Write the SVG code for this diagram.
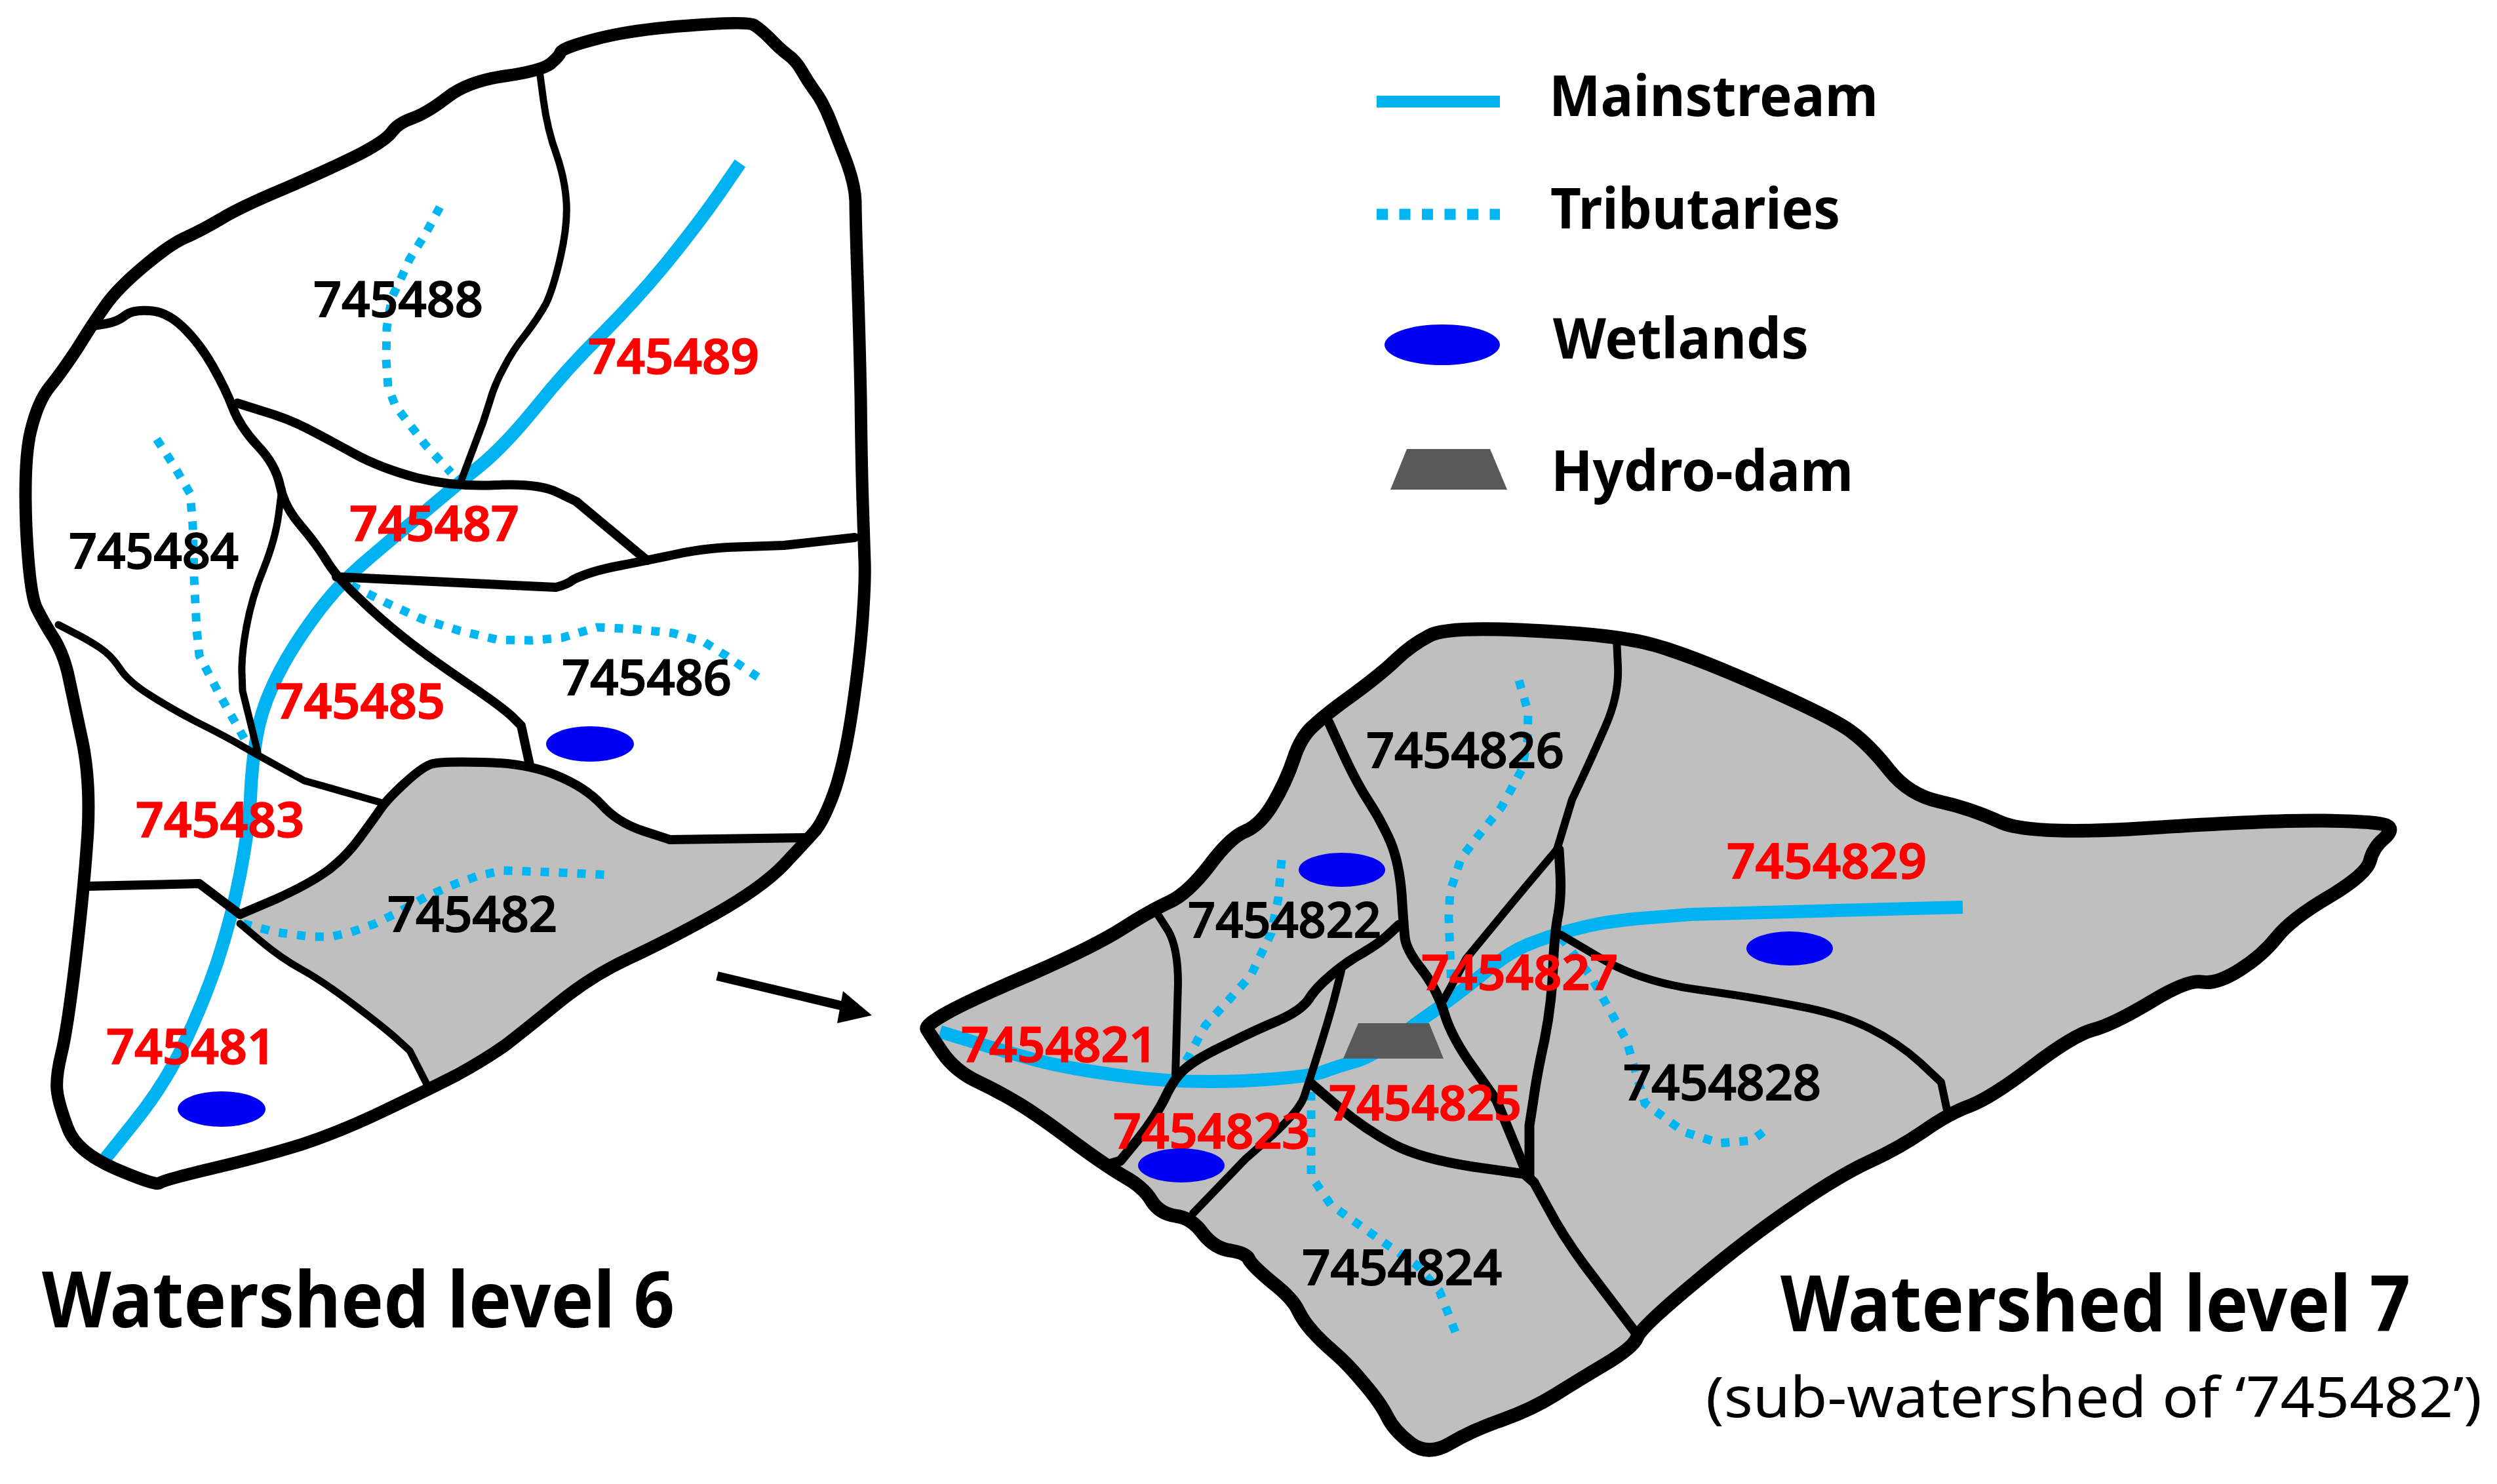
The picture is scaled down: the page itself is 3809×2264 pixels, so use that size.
<svg xmlns="http://www.w3.org/2000/svg" width="3809" height="2264" viewBox="0 0 3809 2264">
<style>
.l{fill:none;stroke:#000;stroke-linejoin:round;stroke-linecap:round}
.b6{stroke-width:19}.i6{stroke-width:11}.m6{stroke-width:14}.b7{stroke-width:21}.i7{stroke-width:12}.m7{stroke-width:15}
.g{fill:#bfbfbf;stroke:none}
.s{fill:none;stroke:#00b2f0;stroke-linejoin:round}
.t{fill:none;stroke:#00b6f2;stroke-width:13;stroke-dasharray:13 15}
.w{fill:#0000f5}
.d{fill:#595959}
text{font-family:"Noto Sans","Open Sans","Liberation Sans",sans-serif}
.n{font-size:74px;font-weight:500;fill:#000;stroke:#000;stroke-width:2}
.r{font-size:74px;font-weight:600;fill:#f00;stroke:#f00;stroke-width:1.5}
.h{font-size:118px;font-weight:700;fill:#000}
.k{font-size:86px;font-weight:700;fill:#000}
.u{font-size:86px;font-weight:400;fill:#000}
</style>
<defs>
<path id="o6" d="M1150,38Q1161,45 1175,59 1188,73 1201,83 1214,92 1223,108 1232,124 1243,139 1254,153 1266,182 1277,210 1291,246 1304,281 1305,307 1305,332 1308,421 1311,510 1313,606 1314,702 1316,766 1318,829 1319,858 1320,886 1316,943 1312,1000 1301,1077 1290,1154 1275,1201 1259,1248 1244,1267 1228,1285 1195,1320 1161,1355 1090,1395 1018,1435 960,1462 902,1489 853,1529 804,1569 773,1593 741,1616 697,1640 652,1663 585,1695 518,1727 460,1746 402,1764 326,1782 250,1800 243,1805 237,1809 176,1783 116,1757 103,1720 89,1683 87,1663 85,1643 94,1606 103,1569 116,1459 129,1348 134,1268 138,1188 125,1128 112,1067 105,1034 98,1000 83,975 67,950 56,928 45,906 40,804 36,702 47,657 58,612 76,590 94,568 119,530 143,491 161,466 179,440 221,405 263,370 286,361 308,351 337,334 366,316 438,286 509,255 549,235 589,214 598,201 607,188 630,180 652,172 683,148 714,124 770,116 826,108 840,97 853,86 855,80 857,73 911,59 964,45 1051,39 1138,32 1150,38Z"/>
<path id="o7" d="M1445,1545Q1479,1526 1575,1485 1671,1443 1713,1416 1755,1389 1784,1376 1812,1363 1845,1320 1877,1277 1900,1268 1923,1258 1942,1226 1961,1194 1973,1159 1984,1124 2004,1107 2023,1089 2065,1059 2107,1028 2130,1006 2153,984 2180,970 2206,955 2336,962 2466,968 2523,984 2580,1000 2689,1048 2798,1096 2825,1117 2852,1137 2882,1175 2912,1213 2959,1223 3005,1233 3051,1254 3097,1275 3280,1263 3462,1251 3544,1252 3626,1253 3640,1259 3653,1265 3637,1279 3620,1293 3615,1314 3610,1334 3553,1368 3495,1402 3473,1430 3451,1458 3416,1480 3381,1502 3359,1498 3337,1494 3280,1529 3223,1563 3193,1571 3163,1579 3100,1627 3037,1675 3005,1687 2972,1699 2934,1726 2896,1752 2852,1772 2808,1792 2738,1840 2667,1888 2585,1957 2503,2025 2497,2041 2491,2056 2449,2081 2407,2106 2372,2128 2337,2150 2292,2166 2246,2182 2212,2202 2179,2222 2152,2202 2126,2182 2116,2161 2105,2139 2080,2110 2056,2081 2035,2063 2014,2045 2002,2031 1989,2017 1980,1999 1972,1981 1940,1956 1909,1930 1905,1921 1902,1912 1878,1908 1853,1905 1835,1882 1818,1858 1793,1855 1768,1851 1756,1831 1744,1811 1715,1795 1686,1778 1636,1741 1587,1704 1556,1685 1525,1666 1491,1650 1457,1634 1437,1605 1418,1577 1414,1570 1411,1564 1445,1545Z"/>
</defs>
<rect width="3809" height="2264" fill="#fff"/>
<g id="watershed-level-6">
<path id="basin-745482" class="g" d="M366,1395L420,1372Q473,1348 500,1328 527,1308 549,1278 571,1248 580,1235 589,1221 616,1196 643,1171 657,1166 670,1161 737,1163 804,1164 849,1183 893,1201 918,1228 942,1255 982,1268L1022,1281 1228,1278 1228,1285 1195,1320Q1161,1355 1090,1395 1018,1435 960,1462 902,1489 853,1529 804,1569 773,1593 741,1616 697,1640L652,1663 625,1603 603,1583Q580,1563 536,1530 491,1496 460,1479 429,1462 398,1436L366,1409Z"/>
<path id="tributaries-6a" class="t" d="M671,316L650,355 625,395 607,435 598,453 590,500 589,548 592,590 603,619 650,680 688,721"/>
<path id="tributaries-6b" class="t" d="M239,670L265,710 290,753 294,800 296,880 300,960 304,1000 335,1060 375,1131"/>
<path id="tributaries-6c" class="t" d="M536,893L590,920 643,944 700,962 759,976 810,977 857,973 911,957 970,960 1027,966 1075,980 1107,1000 1156,1033"/>
<path id="tributaries-6d" class="t" d="M371,1409L420,1422 473,1429 505,1429 536,1422 570,1410 607,1392 650,1368 696,1348 730,1336 768,1328 850,1331 933,1335"/>
<path id="mainstream-6" class="s" stroke-width="20" d="M1129,249L1096,297Q1063,344 1016,402 969,459 918,510 866,561 817,622 768,682 732,711 696,740 643,785 589,829 549,864 509,899 473,950 437,1000 417,1044 397,1087 391,1127 384,1167 382,1218 379,1268 366,1335 353,1402 331,1469 308,1536 279,1596 250,1656 205,1712L161,1767"/>
<g id="boundaries-6">
<path class="l i6" d="M823,108L829,153Q835,198 849,236 862,274 864,309 866,344 855,392 844,440 833,463 821,485 801,511 781,536 768,562 754,587 746,616L737,644 701,740"/>
<path class="l m6" d="M143,497L161,494Q179,491 190,482 201,472 228,474 254,475 279,499 304,523 324,558 344,593 355,622 366,651 393,680 420,708 427,740 433,772 458,801 482,829 498,855 513,880 547,912 580,944 615,972 650,1000 709,1040 768,1080 782,1094L795,1107 808,1167"/>
<path class="l m6" d="M362,615L400,627Q438,638 469,654 500,670 540,692 580,714 636,729 692,743 757,740 821,737 850,751L879,765 987,855"/>
<path class="l m6" d="M513,880L848,896Q865,892 875,884 902,871 945,863 987,855 1034,845 1080,835 1138,834L1196,832 1304,820"/>
<path class="l i6" d="M430,746L425,785Q420,823 402,868 384,912 376,956 368,1000 369,1027L370,1054 393,1147"/>
<path class="l i6" d="M89,953L112,965Q134,976 152,988 170,1000 183,1020 196,1040 228,1060 259,1080 299,1101 339,1121 362,1134 384,1147 424,1169L464,1191 580,1224"/>
<path class="l m6" d="M134,1352L304,1348 366,1395"/>
<path class="l m6" d="M366,1395L420,1372Q473,1348 500,1328 527,1308 549,1278 571,1248 580,1235 589,1221 616,1196 643,1171 657,1166 670,1161 737,1163 804,1164 849,1183 893,1201 918,1228 942,1255 982,1268L1022,1281 1228,1278"/>
<path class="l i6" d="M366,1409L398,1436Q429,1462 460,1479 491,1496 536,1530 580,1563 603,1583L625,1603 652,1656"/>
<use id="outline-6" href="#o6" class="l b6"/>
</g>
<ellipse id="wetland-6a" class="w" cx="900" cy="1135" rx="67" ry="27"/>
<ellipse id="wetland-6b" class="w" cx="338" cy="1692" rx="67" ry="27"/>
<g id="labels-6">
<text class="n" x="478" y="483" textLength="259" lengthAdjust="spacingAndGlyphs">745488</text>
<text class="r" x="897" y="570" textLength="261" lengthAdjust="spacingAndGlyphs">745489</text>
<text class="r" x="533" y="825" textLength="259" lengthAdjust="spacingAndGlyphs">745487</text>
<text class="n" x="105" y="867" textLength="259" lengthAdjust="spacingAndGlyphs">745484</text>
<text class="n" x="857" y="1060" textLength="259" lengthAdjust="spacingAndGlyphs">745486</text>
<text class="r" x="420" y="1096" textLength="259" lengthAdjust="spacingAndGlyphs">745485</text>
<text class="r" x="207" y="1277" textLength="257" lengthAdjust="spacingAndGlyphs">745483</text>
<text class="n" x="591" y="1421" textLength="259" lengthAdjust="spacingAndGlyphs">745482</text>
<text class="r" x="162" y="1623" textLength="258" lengthAdjust="spacingAndGlyphs">745481</text>
</g>
<text id="title-6" class="h" x="64" y="2025" textLength="965" lengthAdjust="spacingAndGlyphs">Watershed level 6</text>
</g>
<g id="connectors">
<line x1="1094" y1="1489" x2="1295" y2="1537" stroke="#000" stroke-width="14"/>
<polygon id="arrow-head" points="1330,1549 1286,1512 1277,1561" fill="#000"/>
</g>
<g id="watershed-level-7">
<use id="basin-7" href="#o7" class="g"/>
<path id="mainstream-7" class="s" stroke-width="20" d="M1434,1574L1480,1588Q1525,1602 1579,1617 1632,1631 1717,1642 1801,1653 1897,1649 1992,1644 2019,1635 2046,1625 2069,1619 2092,1612 2126,1587 2160,1561 2195,1537 2229,1513 2268,1481 2306,1449 2341,1437 2375,1424 2413,1415 2451,1405 2516,1400L2580,1395 2994,1384"/>
<polygon id="hydro-dam-7" class="d" points="2072,1561 2180,1561 2202,1615 2049,1615"/>
<path id="tributaries-7a" class="t" d="M2317,1038L2331,1086 2330,1130 2321,1175 2290,1232 2255,1275 2229,1309 2212,1360 2210,1400 2214,1507"/>
<path id="tributaries-7b" class="t" d="M1955,1312L1950,1370 1939,1424 1908,1488 1875,1525 1839,1564 1801,1634"/>
<path id="tributaries-7c" class="t" d="M2000,1666L2000,1794 2030,1838 2119,1901 2161,1930 2196,1970 2225,2045"/>
<path id="tributaries-7d" class="t" d="M2381,1430L2427,1490 2481,1587 2509,1683 2569,1727 2623,1744 2672,1740 2702,1718"/>
<g id="boundaries-7">
<path class="l m7" d="M2027,1102L2048,1148Q2069,1194 2088,1223 2107,1252 2121,1284 2134,1315 2138,1363 2141,1411 2143,1430 2145,1449 2168,1478 2191,1507 2203,1545 2214,1583 2249,1631L2283,1679 2325,1781"/>
<path class="l m7" d="M2134,1411L2120,1424Q2107,1437 2080,1453 2053,1468 2030,1488 2007,1507 1996,1525 1984,1542 1950,1557 1916,1571 1874,1592 1831,1612 1812,1627 1793,1641 1778,1673 1763,1704 1736,1738L1709,1771 1686,1778"/>
<path class="l i7" d="M1766,1395L1782,1420Q1797,1446 1797,1500L1793,1641"/>
<path class="l i7" d="M2046,1481L2038,1513Q2030,1545 2013,1599 1996,1653 1989,1674 1981,1695 1941,1732L1900,1768 1820,1851"/>
<path class="l m7" d="M2000,1653L2042,1689Q2084,1724 2126,1746 2168,1768 2247,1780L2325,1791 2340,1804"/>
<path class="l i7" d="M2466,974L2468,1017Q2470,1060 2449,1108 2428,1156 2413,1188L2398,1220 2375,1296"/>
<path class="l i7" d="M2375,1296L2348,1328Q2321,1360 2279,1411L2237,1462 2202,1526"/>
<path class="l m7" d="M2378,1296L2380,1331Q2382,1366 2377,1395 2371,1424 2369,1478 2367,1532 2356,1587 2344,1641 2339,1679L2333,1717 2333,1797 2340,1804 2362,1844Q2383,1884 2416,1929L2498,2037"/>
<path class="l i7" d="M2381,1426L2442,1462Q2503,1498 2591,1510 2678,1522 2743,1535 2808,1547 2852,1569 2896,1591 2929,1621L2961,1651 2972,1703"/>
<use id="outline-7" href="#o7" class="l b7"/>
</g>
<ellipse id="wetland-7a" class="w" cx="2047" cy="1327" rx="66" ry="26"/>
<ellipse id="wetland-7c" class="w" cx="2730" cy="1447" rx="66" ry="26"/>
<g id="labels-7">
<text class="n" x="2084" y="1171" textLength="302" lengthAdjust="spacingAndGlyphs">7454826</text>
<text class="n" x="1812" y="1430" textLength="295" lengthAdjust="spacingAndGlyphs">7454822</text>
<text class="r" x="2168" y="1510" textLength="300" lengthAdjust="spacingAndGlyphs">7454827</text>
<text class="r" x="1466" y="1620" textLength="299" lengthAdjust="spacingAndGlyphs">7454821</text>
<text class="r" x="2027" y="1709" textLength="294" lengthAdjust="spacingAndGlyphs">7454825</text>
<text class="r" x="1698" y="1752" textLength="300" lengthAdjust="spacingAndGlyphs">7454823</text>
<text class="r" x="2634" y="1340" textLength="305" lengthAdjust="spacingAndGlyphs">7454829</text>
<text class="n" x="2476" y="1678" textLength="302" lengthAdjust="spacingAndGlyphs">7454828</text>
<text class="n" x="1986" y="1960" textLength="305" lengthAdjust="spacingAndGlyphs">7454824</text>
</g>
<ellipse id="wetland-7b" class="w" cx="1802" cy="1778" rx="66" ry="26"/>
<text id="title-7" class="h" x="2716" y="2031" textLength="961" lengthAdjust="spacingAndGlyphs">Watershed level 7</text>
<text id="subtitle-7" class="u" x="2602" y="2162" textLength="1184" lengthAdjust="spacingAndGlyphs">(sub-watershed of ‘745482’)</text>
</g>
<g id="legend">
<g id="legend-mainstream"><line x1="2100" y1="155" x2="2288" y2="155" stroke="#00b2f0" stroke-width="18"/><text class="k" x="2363" y="177" textLength="502" lengthAdjust="spacingAndGlyphs">Mainstream</text></g>
<g id="legend-tributaries"><line x1="2100" y1="327" x2="2288" y2="327" stroke="#00b6f2" stroke-width="17" stroke-dasharray="17 17.5"/><text class="k" x="2365" y="349" textLength="442" lengthAdjust="spacingAndGlyphs">Tributaries</text></g>
<g id="legend-wetlands"><ellipse class="w" cx="2200" cy="526" rx="88" ry="31"/><text class="k" x="2369" y="547" textLength="390" lengthAdjust="spacingAndGlyphs">Wetlands</text></g>
<g id="legend-hydro-dam"><polygon class="d" points="2146,685 2273,685 2299,747 2121,747"/><text class="k" x="2366" y="749" textLength="461" lengthAdjust="spacingAndGlyphs">Hydro-dam</text></g>
</g>
</svg>
